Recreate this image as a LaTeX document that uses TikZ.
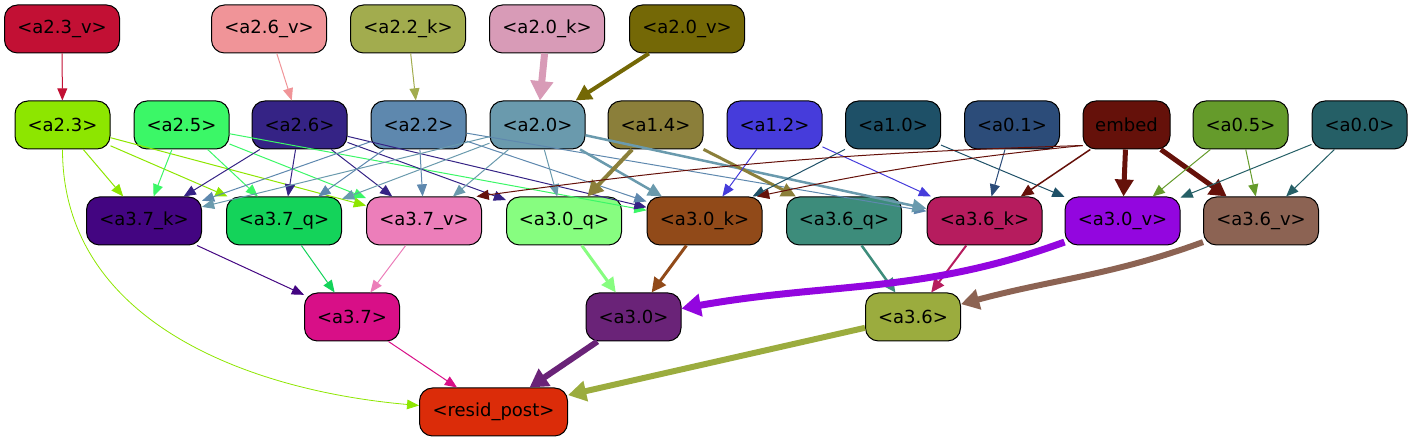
\documentclass[tikz,border=0pt]{standalone}
\usepackage{fontspec}
\setmainfont{DejaVu Sans}
\usetikzlibrary{arrows.meta}

\definecolor{ca23v}{HTML}{C21034}
\definecolor{ca26v}{HTML}{F09498}
\definecolor{ca22k}{HTML}{A2AC4E}
\definecolor{ca20k}{HTML}{D89BB7}
\definecolor{ca20v}{HTML}{746806}
\definecolor{ca23}{HTML}{8DE600}
\definecolor{ca25}{HTML}{3BF767}
\definecolor{ca26}{HTML}{352385}
\definecolor{ca22}{HTML}{5E88AE}
\definecolor{ca20}{HTML}{6A9AAD}
\definecolor{ca14}{HTML}{8B7F3A}
\definecolor{ca12}{HTML}{463CDB}
\definecolor{ca10}{HTML}{1E5067}
\definecolor{ca01}{HTML}{2C4C79}
\definecolor{cembed}{HTML}{65110A}
\definecolor{ca05}{HTML}{659B2B}
\definecolor{ca00}{HTML}{255F66}
\definecolor{ca37k}{HTML}{430581}
\definecolor{ca37q}{HTML}{14D35A}
\definecolor{ca37v}{HTML}{EC7EBA}
\definecolor{ca30q}{HTML}{87FD80}
\definecolor{ca30k}{HTML}{914A19}
\definecolor{ca36q}{HTML}{3D8C7B}
\definecolor{ca36k}{HTML}{B61C5E}
\definecolor{ca30v}{HTML}{9306DF}
\definecolor{ca36v}{HTML}{8C6353}
\definecolor{ca37}{HTML}{D80F87}
\definecolor{ca30}{HTML}{6A2378}
\definecolor{ca36}{HTML}{9BAC3E}
\definecolor{cresid}{HTML}{DB2C09}

\tikzset{
box/.style={draw=black, line width=1pt, rounded corners=13pt, minimum height=48pt,
  inner sep=0pt, font=\fontsize{18}{21}\selectfont},
link/.style={draw=#1, -{Triangle[length=11pt 1.2, width=8pt 2]}}
}

\begin{document}
\begin{tikzpicture}[x=1pt, y=1pt]
\useasboundingbox (0,0) rectangle (1413,443);

% inputs
\foreach \n/\x/\t in {a23v/62/{<a2.3\_v>}, a26v/269/{<a2.6\_v>}, a22k/408/{<a2.2\_k>}, a20k/547/{<a2.0\_k>}, a20v/687/{<a2.0\_v>}}{
  \node[box, fill=c\n, minimum width=115pt] (\n) at (\x,414) {\t};
}

\foreach \n/\x/\t in {a23/62.5/{<a2.3>}, a25/181.5/{<a2.5>}, a26/299.5/{<a2.6>}, a22/418.5/{<a2.2>}, a20/537.5/{<a2.0>}, a14/655.5/{<a1.4>}, a12/774.5/{<a1.2>}, a10/893/{<a1.0>}, a01/1012/{<a0.1>}, a05/1240.5/{<a0.5>}, a00/1359.5/{<a0.0>}}{
  \node[box, fill=c\n, minimum width=95pt] (\n) at (\x,318) {\t};
}
\node[box, fill=cembed, minimum width=87pt] (embed) at (1126.5,318) {embed};

\foreach \n/\x/\t in {a37k/144/{<a3.7\_k>}, a37q/284/{<a3.7\_q>}, a37v/424/{<a3.7\_v>}, a30q/564/{<a3.0\_q>}, a30k/704.5/{<a3.0\_k>}, a36q/844/{<a3.6\_q>}, a36k/984.5/{<a3.6\_k>}, a30v/1122.5/{<a3.0\_v>}, a36v/1261/{<a3.6\_v>}}{
  \node[box, fill=c\n, minimum width=115pt] (\n) at (\x,222) {\t};
}

\foreach \n/\x/\t in {a37/352/{<a3.7>}, a30/633.5/{<a3.0>}, a36/913/{<a3.6>}}{
  \node[box, fill=c\n, minimum width=95pt] (\n) at (\x,126) {\t};
}
\node[box, fill=cresid, minimum width=148pt] (resid) at (493.5,31) {<resid\_post>};

% straight links, coloured as their source
\foreach \s/\t/\w in {a23v/a23/1, a26v/a26/1, a22k/a22/1, a20k/a20/7, a20v/a20/4,
  a23/a37k/1, a23/a37q/1, a23/a37v/1,
  a25/a37k/1, a25/a37q/1, a25/a37v/1, a25/a30k/1,
  a26/a37k/1, a26/a37q/1, a26/a37v/1, a26/a30q/1, a26/a30k/1,
  a22/a37k/1, a22/a37q/1, a22/a37v/1, a22/a30k/1, a22/a36k/1,
  a20/a37k/1, a20/a37q/1, a20/a37v/1, a20/a30q/1, a20/a30k/2.5, a20/a36k/2.5,
  a14/a30q/4, a14/a36q/3, a12/a30k/1, a12/a36k/1, a10/a30k/1, a10/a30v/1, a01/a36k/1,
  embed/a36k/1.5, embed/a30v/5, embed/a36v/5,
  a05/a30v/1, a05/a36v/1, a00/a30v/1, a00/a36v/1,
  a37k/a37/1, a37q/a37/1, a37v/a37/1, a30q/a30/3, a30k/a30/3, a36q/a36/2.5, a36k/a36/2,
  a37/resid/1, a30/resid/6, a36/resid/6}{
  \draw[link=c\s, line width=\w pt] (\s) -- (\t);
}

% curved ones
\draw[link=cembed, line width=1pt] (embed.205) to[bend right=3] (a37v.25);
\draw[link=cembed, line width=1pt] (embed.205) to[bend right=3] (a30k.25);
\draw[link=ca23, line width=0.8pt] (a23) to[out=-90, in=175] (resid);
\draw[link=ca30v, line width=7pt] (a30v) to[out=200, in=10] (a30);
\draw[link=ca36v, line width=6pt] (a36v) to[out=200, in=15] (a36);
\end{tikzpicture}
\end{document}
